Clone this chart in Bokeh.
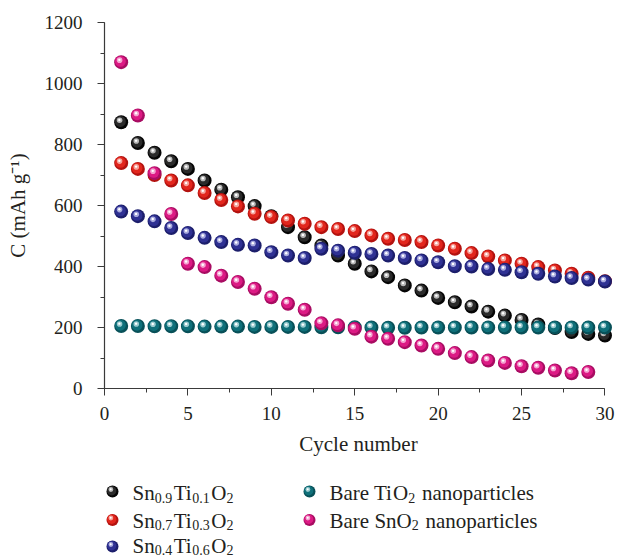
from bokeh.plotting import figure
from bokeh.layouts import column
from bokeh.models import Range1d, SingleIntervalTicker
from bokeh.core.properties import value
from bokeh.embed import file_html
from bokeh.resources import INLINE

# ---------------- data ----------------
cycles = list(range(1, 31))
sn09_ti01 = [873, 805, 773, 745, 720, 682, 652, 627, 598, 565, 529, 496, 469, 436, 409,
             384, 365, 338, 321, 297, 283, 269, 252, 239, 225, 210, 198, 185, 179, 174]
sn07_ti03 = [739, 720, 700, 682, 666, 641, 618, 597, 573, 562, 551, 540, 529, 523, 516,
             502, 491, 487, 480, 469, 458, 444, 433, 420, 409, 398, 387, 376, 363, 352]
sn04_ti06 = [580, 565, 548, 526, 510, 494, 480, 471, 469, 447, 436, 428, 458, 452, 445,
             441, 436, 428, 420, 414, 401, 400, 392, 389, 381, 376, 367, 362, 357, 351]
bare_tio2 = [205, 205, 204, 204, 204, 203, 203, 203, 202, 202, 202, 202, 201, 201, 201,
             200, 199, 199, 200, 200, 200, 200, 200, 200, 200, 200, 200, 200, 200, 200]
cycles_sno2 = list(range(1, 30))
bare_sno2 = [1070, 895, 706, 572, 409, 398, 370, 349, 327, 299, 278, 258, 214, 207, 196,
             170, 163, 152, 141, 130, 116, 103, 92, 84, 73, 68, 59, 50, 54]

x_ticks_interval = 5
y_ticks_interval = 200

FONT = "Liberation Serif"
TXT = "#231f20"

# (dark edge, main colour, highlight)
STYLES = {
    "black": ("#050505", "#2a2a2a", "#c8c8c8"),
    "red": ("#b3120f", "#e2261d", "#f7b0a8"),
    "blue": ("#1c1e6b", "#2f3193", "#b5b7e6"),
    "teal": ("#085058", "#0f707a", "#a8d4d8"),
    "pink": ("#a80c62", "#dc1a84", "#f6b3d8"),
}

series = [
    (cycles, sn09_ti01, "black"),
    (cycles, sn07_ti03, "red"),
    (cycles, sn04_ti06, "blue"),
    (cycles, bare_tio2, "teal"),
    (cycles_sno2, bare_sno2, "pink"),
]

FRAME_L, FRAME_R = 104, 612

# ---------------- main plot ----------------
p = figure(width=617, height=465, output_backend="svg", toolbar_location=None,
           x_range=Range1d(0, 30.45), y_range=Range1d(0, 1200),
           min_border_left=FRAME_L, min_border_right=617 - FRAME_R, min_border_top=22,
           min_border_bottom=77)
p.outline_line_color = None
p.xgrid.visible = False
p.ygrid.visible = False
p.background_fill_color = "white"
p.border_fill_color = "white"

p.xaxis.ticker = SingleIntervalTicker(interval=x_ticks_interval, num_minor_ticks=2)
p.yaxis.ticker = SingleIntervalTicker(interval=y_ticks_interval, num_minor_ticks=2)
p.xaxis.bounds = (0, 30)
for ax in (p.xaxis, p.yaxis):
    ax.major_tick_in = 0
    ax.major_tick_out = 7
    ax.minor_tick_in = 0
    ax.minor_tick_out = 4
    ax.axis_line_color = "#3a3a3a"
    ax.major_tick_line_color = "#3a3a3a"
    ax.minor_tick_line_color = "#3a3a3a"
    ax.axis_line_width = 1.2
    ax.major_label_text_font = FONT
    ax.major_label_text_font_size = "19px"
    ax.major_label_text_color = TXT
    ax.axis_label_text_font = FONT
    ax.axis_label_text_font_size = "21px"
    ax.axis_label_text_font_style = "normal"
    ax.axis_label_text_color = TXT
p.xaxis.axis_label = "Cycle number"
p.yaxis.axis_label = "C (mAh g\u207b\u00b9)"
p.xaxis.major_label_standoff = 11
p.xaxis.axis_label_standoff = 9
p.yaxis.major_label_standoff = 15
p.yaxis.axis_label_standoff = 12

# data units per pixel (for the sphere highlight offsets)
ux = 30.45 / (FRAME_R - FRAME_L)
uy = 1200.0 / 366.0


def sphere(fig, xs, ys, style, size, sx, sy):
    dark, main, light = STYLES[style]
    fig.scatter(xs, ys, size=size, fill_color=dark, line_color=None)
    xm = [v - 0.8 * sx for v in xs]
    ym = [v + 0.8 * sy for v in ys]
    fig.scatter(xm, ym, size=size * 0.78, fill_color=main, line_color=None)
    xh = [v - 1.6 * sx for v in xs]
    yh = [v + 2.0 * sy for v in ys]
    fig.scatter(xh, yh, size=size * 0.4, fill_color=light, line_color=None, fill_alpha=0.9)
    xw = [v - 1.8 * sx for v in xs]
    yw = [v + 2.3 * sy for v in ys]
    fig.scatter(xw, yw, size=size * 0.17, fill_color="white", line_color=None)


for xs, ys, st in series:
    sphere(p, xs, ys, st, 14, ux, uy)

# ---------------- legend (strip below; its frame is aligned to the main frame) ----------------
LH = 93
lg = figure(width=617, height=LH, output_backend="svg", toolbar_location=None,
            x_range=Range1d(FRAME_L, FRAME_R), y_range=Range1d(LH, 0),
            x_axis_location=None, y_axis_location=None,
            min_border_left=FRAME_L, min_border_right=617 - FRAME_R,
            min_border_top=0, min_border_bottom=0)
lg.outline_line_color = None
lg.xgrid.visible = False
lg.ygrid.visible = False

W = {"S": .556, "n": .5, "T": .611, "i": .278, "O": .722, "B": .667, "a": .444,
     "r": .333, "e": .444, " ": .25, "p": .5, "o": .5, "t": .278, "c": .444,
     "l": .278, "s": .389, ".": .25}
for d in "0123456789":
    W[d] = .5

MAIN_FS = 21
SUB_FS = 14


def rich(fig, x0, base, pieces):
    x = x0
    for txt, sub in pieces:
        fs = SUB_FS if sub else MAIN_FS
        lead = len(txt) - len(txt.lstrip(" "))
        x += lead * W[" "] * fs
        txt = txt.lstrip(" ")
        yy = base + (4.5 if sub else 0)
        fig.text(x=[x], y=[yy], text=[txt], text_font=value(FONT),
                 text_font_size=f"{fs}px", text_baseline="alphabetic",
                 text_align="left", text_color=TXT)
        x += sum(W.get(c, .5) for c in txt) * fs + (1.5 if sub else 0)


legend_items = [
    ("black", 112, 26, 27.5, [("Sn", 0), ("0.9", 1), ("Ti", 0), ("0.1", 1), ("O", 0), ("2", 1)]),
    ("red", 112, 54.5, 55, [("Sn", 0), ("0.7", 1), ("Ti", 0), ("0.3", 1), ("O", 0), ("2", 1)]),
    ("blue", 112, 81, 80, [("Sn", 0), ("0.4", 1), ("Ti", 0), ("0.6", 1), ("O", 0), ("2", 1)]),
    ("teal", 309, 26, 27.5, [("Bare Ti", 0), ("O", 0), ("2", 1), (" nanoparticles", 0)]),
    ("pink", 309, 54.5, 55, [("Bare Sn", 0), ("O", 0), ("2", 1), (" nanoparticles", 0)]),
]
for st, mx, my, base, pieces in legend_items:
    sphere(lg, [mx], [my], st, 12, 1.0, -1.0)
    rich(lg, mx + 20, base, pieces)

layout = column(p, lg, spacing=0)
open("out.html", "w").write(file_html(layout, INLINE))
